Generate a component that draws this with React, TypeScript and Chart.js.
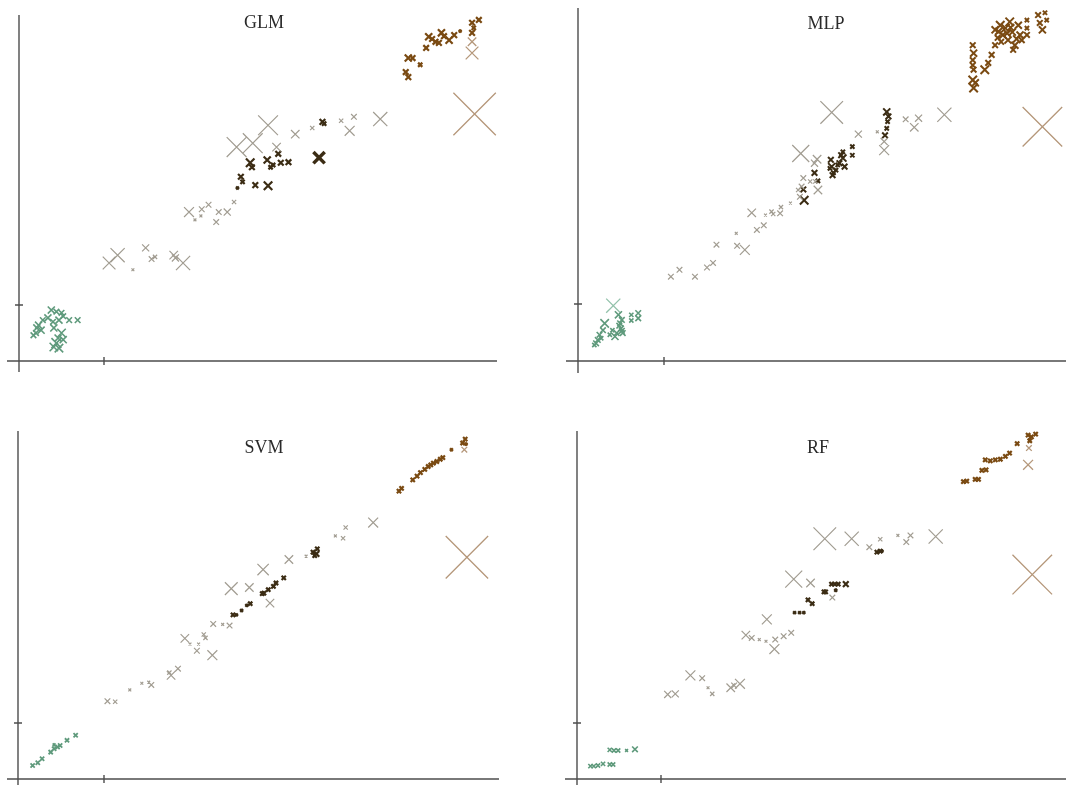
import React, { useEffect, useRef } from 'react';
import { Chart, registerables } from 'chart.js';

Chart.register(...registerables);

// [x, y, marker size]
type Pt = [number, number, number];

// ---------- GLM ----------
const glmGreen: Pt[] = [
  [0.23, 0.64, 5], [0.26, 0.55, 5], [0.17, 0.46, 4], [0.21, 0.59, 5], [0.28, 0.73, 4], [0.38, 0.91, 5],
  [0.44, 0.88, 4], [0.50, 0.86, 4], [0.47, 0.73, 5], [0.40, 0.70, 4], [0.41, 0.59, 5], [0.50, 0.50, 6],
  [0.44, 0.32, 7], [0.41, 0.25, 6], [0.46, 0.41, 5], [0.59, 0.73, 4], [0.69, 0.73, 4], [0.34, 0.77, 5],
  [0.52, 0.80, 4], [0.20, 0.50, 4], [0.47, 0.23, 6], [0.52, 0.38, 5],
];
const glmGray: Pt[] = [
  [1.06, 1.75, 9], [1.16, 1.89, 10], [1.34, 1.63, 2], [1.49, 2.02, 5], [1.56, 1.82, 4], [1.60, 1.86, 3],
  [1.82, 1.89, 6], [1.84, 1.84, 5], [1.93, 1.75, 10], [2.00, 2.66, 7], [2.07, 2.52, 2], [2.14, 2.59, 2],
  [2.15, 2.71, 4], [2.23, 2.79, 4], [2.32, 2.48, 4], [2.35, 2.66, 4], [2.45, 2.66, 5], [2.53, 2.84, 3],
  [2.56, 3.82, 14], [2.75, 3.89, 14], [2.93, 4.21, 14], [3.03, 3.82, 6], [3.25, 4.05, 6], [3.45, 4.16, 3],
  [3.79, 4.29, 3], [3.94, 4.36, 4], [3.89, 4.11, 7], [4.25, 4.32, 10],
];
const glmDark: Pt[] = [
  [2.72, 3.54, 6], [2.74, 3.46, 4], [2.61, 3.29, 4], [2.63, 3.20, 3], [2.57, 3.09, 2], [2.78, 3.14, 4],
  [2.93, 3.13, 6], [2.92, 3.59, 5], [2.99, 3.50, 3], [3.08, 3.54, 4], [3.17, 3.55, 4], [3.05, 3.70, 4],
  [3.57, 4.27, 4], [2.96, 3.46, 3], [3.59, 4.24, 3],
];
const glmBold: Pt[] = [[3.53, 3.63, 8]];
const glmBrown: Pt[] = [
  [4.58, 5.41, 5], [4.63, 5.41, 4], [4.55, 5.16, 4], [4.58, 5.07, 4], [4.72, 5.29, 3], [4.79, 5.59, 4],
  [4.82, 5.79, 5], [4.90, 5.70, 4], [4.97, 5.86, 5], [5.06, 5.73, 5], [4.94, 5.68, 4], [5.12, 5.82, 4],
  [5.19, 5.89, 2], [5.33, 6.04, 4], [5.41, 6.09, 4], [5.33, 5.86, 4], [4.86, 5.75, 4], [5.00, 5.80, 4],
  [5.35, 5.95, 3],
];
const glmTan: Pt[] = [[5.33, 5.70, 6], [5.33, 5.50, 9], [5.36, 4.41, 30]];

// ---------- MLP ----------
const mlpGreen: Pt[] = [
  [0.21, 0.31, 4], [0.23, 0.37, 4], [0.25, 0.46, 4], [0.31, 0.66, 6], [0.29, 0.54, 4], [0.43, 0.43, 5],
  [0.45, 0.49, 4], [0.47, 0.81, 5], [0.49, 0.66, 4], [0.50, 0.57, 4], [0.51, 0.72, 4], [0.52, 0.49, 4],
  [0.62, 0.81, 3], [0.62, 0.71, 3], [0.70, 0.75, 4], [0.70, 0.84, 4], [0.40, 0.54, 3], [0.37, 0.46, 3],
  [0.19, 0.28, 3], [0.27, 0.40, 3], [0.48, 0.62, 4], [0.51, 0.53, 4],
];
const mlpLightGreen: Pt[] = [[0.41, 0.97, 10]];
const mlpGray: Pt[] = [
  [1.08, 1.48, 4], [1.18, 1.60, 4], [1.36, 1.48, 4], [1.50, 1.64, 4], [1.57, 1.72, 4], [1.61, 2.04, 4],
  [1.84, 2.24, 2], [1.85, 2.02, 4], [1.94, 1.95, 7], [2.02, 2.60, 6], [2.08, 2.30, 4], [2.16, 2.38, 4],
  [2.18, 2.56, 2], [2.25, 2.62, 3], [2.27, 2.58, 3], [2.35, 2.59, 4], [2.36, 2.70, 3], [2.47, 2.77, 2],
  [2.59, 3.64, 12], [2.95, 4.36, 16], [3.26, 3.98, 5], [3.48, 4.02, 2], [3.81, 4.24, 4], [3.96, 4.26, 5],
  [3.91, 4.10, 6], [4.26, 4.32, 10], [3.56, 3.70, 7], [3.56, 3.85, 5], [2.79, 3.00, 6], [2.75, 3.47, 5],
  [2.78, 3.54, 6], [2.62, 3.21, 4], [2.60, 3.06, 4], [2.56, 3.00, 3], [2.70, 3.15, 3], [2.76, 3.15, 3],
  [2.58, 2.88, 4],
];
const mlpDark: Pt[] = [
  [2.63, 2.82, 6], [2.62, 3.01, 4], [2.75, 3.30, 4], [2.79, 3.16, 3], [2.94, 3.53, 4], [2.95, 3.41, 5],
  [2.96, 3.26, 4], [3.00, 3.35, 3], [3.04, 3.47, 4], [3.06, 3.61, 4], [3.08, 3.56, 5], [3.10, 3.41, 4],
  [3.08, 3.67, 3], [3.19, 3.76, 3], [3.19, 3.61, 3], [3.59, 4.37, 5], [3.61, 4.29, 4], [3.59, 4.08, 3],
  [3.57, 3.96, 4], [3.60, 4.20, 3], [2.97, 3.30, 3], [3.02, 3.44, 3], [2.93, 3.38, 3],
];
const mlpBrown: Pt[] = [
  [4.59, 5.54, 4], [4.60, 5.40, 5], [4.59, 5.28, 4], [4.59, 5.19, 4], [4.60, 5.11, 4], [4.59, 4.93, 6],
  [4.60, 4.79, 6], [4.62, 4.88, 5], [4.73, 5.11, 6], [4.77, 5.23, 4], [4.81, 5.37, 4], [4.85, 5.54, 4],
  [4.85, 5.81, 5], [4.91, 5.89, 6], [4.94, 5.72, 5], [4.97, 5.84, 6], [5.00, 5.63, 5], [5.02, 5.95, 6],
  [5.05, 5.77, 5], [5.08, 5.54, 5], [5.12, 5.89, 5], [5.14, 5.72, 5], [4.88, 5.67, 4], [5.06, 5.46, 4],
  [5.16, 5.63, 4], [5.22, 5.98, 3], [5.22, 5.84, 3], [5.22, 5.72, 4], [5.35, 6.07, 4], [5.37, 5.93, 4],
  [5.40, 5.81, 5], [5.43, 6.11, 3], [5.45, 5.98, 3], [4.89, 5.78, 5], [4.99, 5.75, 5], [5.10, 5.65, 5],
  [4.92, 5.60, 4], [5.03, 5.85, 5],
];
const mlpTan: Pt[] = [[5.40, 4.11, 28]];

// ---------- SVM ----------
const svmGreen: Pt[] = [
  [0.17, 0.24, 3], [0.23, 0.29, 3], [0.28, 0.36, 3], [0.38, 0.48, 3], [0.42, 0.54, 3], [0.46, 0.57, 3],
  [0.49, 0.60, 3], [0.42, 0.61, 2], [0.57, 0.69, 3], [0.67, 0.78, 3],
];
const svmGray: Pt[] = [
  [1.04, 1.39, 4], [1.13, 1.38, 3], [1.30, 1.59, 2], [1.44, 1.71, 2], [1.52, 1.73, 2], [1.55, 1.68, 4],
  [1.76, 1.90, 3], [1.78, 1.85, 6], [1.86, 1.97, 4], [1.94, 2.51, 6], [2.00, 2.41, 2], [2.10, 2.41, 2],
  [2.08, 2.29, 4], [2.16, 2.58, 3], [2.18, 2.52, 3], [2.26, 2.21, 7], [2.27, 2.77, 4], [2.38, 2.76, 2],
  [2.46, 2.74, 4], [2.48, 3.40, 9], [2.69, 3.42, 6], [2.85, 3.74, 8], [2.93, 3.14, 6], [3.15, 3.92, 6],
  [3.35, 3.98, 2], [3.69, 4.34, 2], [3.78, 4.30, 3], [3.81, 4.49, 3], [4.13, 4.58, 7],
];
const svmDark: Pt[] = [
  [2.50, 2.93, 3], [2.54, 2.93, 2], [2.60, 3.01, 2], [2.66, 3.10, 2], [2.70, 3.13, 3], [2.84, 3.31, 3],
  [2.86, 3.32, 3], [2.91, 3.38, 3], [2.97, 3.44, 3], [3.00, 3.50, 3], [3.09, 3.59, 3], [3.43, 4.05, 3],
  [3.47, 4.02, 4], [3.45, 3.99, 3], [3.48, 4.11, 3],
];
const svmBrown: Pt[] = [
  [4.43, 5.14, 3], [4.46, 5.19, 3], [4.59, 5.34, 3], [4.64, 5.41, 3], [4.68, 5.47, 3], [4.73, 5.53, 3],
  [4.77, 5.58, 3], [4.80, 5.61, 3], [4.83, 5.64, 3], [4.87, 5.67, 3], [4.91, 5.71, 3], [4.94, 5.74, 3],
  [5.04, 5.88, 2], [5.17, 6.00, 3], [5.20, 6.07, 3], [5.21, 5.98, 2],
];
const svmTan: Pt[] = [[5.19, 5.88, 4], [5.22, 3.96, 30]];

// ---------- RF ----------
const rfGreen: Pt[] = [
  [0.16, 0.23, 3], [0.20, 0.23, 3], [0.25, 0.24, 3], [0.31, 0.27, 3], [0.39, 0.26, 3], [0.43, 0.26, 3],
  [0.39, 0.52, 3], [0.44, 0.51, 3], [0.49, 0.51, 3], [0.59, 0.51, 2], [0.69, 0.53, 4],
];
const rfGray: Pt[] = [
  [1.08, 1.51, 5], [1.17, 1.52, 5], [1.35, 1.85, 7], [1.49, 1.80, 4], [1.56, 1.63, 2], [1.61, 1.52, 3],
  [1.83, 1.63, 6], [1.87, 1.67, 4], [1.94, 1.70, 7], [2.01, 2.57, 6], [2.08, 2.52, 4], [2.17, 2.49, 2],
  [2.25, 2.46, 2], [2.36, 2.49, 4], [2.35, 2.32, 7], [2.26, 2.85, 7], [2.46, 2.55, 4], [2.55, 2.61, 4],
  [2.58, 3.57, 12], [2.78, 3.50, 6], [3.04, 3.24, 4], [2.95, 4.29, 16], [3.27, 4.29, 10], [3.48, 4.14, 4],
  [3.61, 4.28, 3], [3.82, 4.35, 2], [3.92, 4.23, 4], [3.97, 4.35, 4], [4.27, 4.33, 10],
];
const rfDark: Pt[] = [
  [2.59, 2.97, 2], [2.65, 2.97, 2], [2.70, 2.97, 2], [2.75, 3.20, 3], [2.80, 3.13, 3], [2.94, 3.34, 3],
  [2.96, 3.34, 3], [3.03, 3.48, 3], [3.07, 3.48, 3], [3.11, 3.48, 3], [3.08, 3.37, 2], [3.20, 3.48, 4],
  [3.57, 4.05, 3], [3.61, 4.07, 3], [3.63, 4.07, 2],
];
const rfBrown: Pt[] = [
  [4.60, 5.31, 3], [4.64, 5.32, 3], [4.74, 5.35, 3], [4.78, 5.35, 3], [4.82, 5.51, 3], [4.87, 5.52, 3],
  [4.86, 5.70, 3], [4.92, 5.68, 3], [4.98, 5.70, 3], [5.04, 5.71, 3], [5.10, 5.76, 3], [5.15, 5.82, 3],
  [5.24, 5.99, 3], [5.37, 6.14, 3], [5.39, 6.04, 3], [5.46, 6.16, 3], [5.41, 6.11, 3],
];
const rfTan: Pt[] = [[5.38, 5.91, 4], [5.37, 5.61, 7], [5.42, 3.65, 28]];

// ---------- styling ----------
const GREEN = '#5f9a7c';
const LIGHT_GREEN = '#93c2ab';
const GRAY = '#a19c91';
const DARK = '#3b2c14';
const BROWN = '#7a4a12';
const TAN = '#b5977a';

interface Group { pts: Pt[]; color: string; width: number; }
interface Panel {
  name: string; left: number; top: number; w: number; h: number;
  ox: number; oy: number; ux: number; uy: number;
  yTop: number; yBottom: number; xLeft: number; xRight: number;
  titleX: number; titleY: number; groups: Group[];
}

const panels: Panel[] = [
  {
    name: 'GLM', left: 0, top: 0, w: 533, h: 392, ox: 19, oy: 361, ux: 85, uy: 56,
    yTop: 15, yBottom: 372, xLeft: 7, xRight: 497, titleX: 264, titleY: 22,
    groups: [
      { pts: glmGray, color: GRAY, width: 1.2 },
      { pts: glmGreen, color: GREEN, width: 1.6 },
      { pts: glmDark, color: DARK, width: 2.2 },
      { pts: glmBold, color: DARK, width: 3.5 },
      { pts: glmBrown, color: BROWN, width: 2.2 },
      { pts: glmTan, color: TAN, width: 1.3 },
    ],
  },
  {
    name: 'MLP', left: 533, top: 0, w: 533, h: 392, ox: 45, oy: 361, ux: 86, uy: 57,
    yTop: 8, yBottom: 373, xLeft: 33, xRight: 533, titleX: 826, titleY: 23,
    groups: [
      { pts: mlpGray, color: GRAY, width: 1.2 },
      { pts: mlpGreen, color: GREEN, width: 1.6 },
      { pts: mlpLightGreen, color: LIGHT_GREEN, width: 1.3 },
      { pts: mlpDark, color: DARK, width: 2.0 },
      { pts: mlpBrown, color: BROWN, width: 2.0 },
      { pts: mlpTan, color: TAN, width: 1.3 },
    ],
  },
  {
    name: 'SVM', left: 0, top: 392, w: 533, h: 393, ox: 18, oy: 387, ux: 86, uy: 56,
    yTop: 39, yBottom: 393, xLeft: 7, xRight: 499, titleX: 264, titleY: 447,
    groups: [
      { pts: svmGray, color: GRAY, width: 1.2 },
      { pts: svmGreen, color: GREEN, width: 1.8 },
      { pts: svmDark, color: DARK, width: 2.2 },
      { pts: svmBrown, color: BROWN, width: 2.2 },
      { pts: svmTan, color: TAN, width: 1.3 },
    ],
  },
  {
    name: 'RF', left: 533, top: 392, w: 533, h: 393, ox: 44, oy: 387, ux: 84, uy: 56,
    yTop: 39, yBottom: 393, xLeft: 32, xRight: 533, titleX: 818, titleY: 447,
    groups: [
      { pts: rfGray, color: GRAY, width: 1.2 },
      { pts: rfGreen, color: GREEN, width: 1.6 },
      { pts: rfDark, color: DARK, width: 2.2 },
      { pts: rfBrown, color: BROWN, width: 2.2 },
      { pts: rfTan, color: TAN, width: 1.3 },
    ],
  },
];

const crossAxes = {
  id: 'crossAxes',
  beforeDatasetsDraw(chart: any, _args: any, opts: any) {
    const { ctx } = chart;
    const xs = chart.scales.x;
    const ys = chart.scales.y;
    const x0 = xs.getPixelForValue(0);
    const y0 = ys.getPixelForValue(0);
    const x1 = xs.getPixelForValue(1);
    const y1 = ys.getPixelForValue(1);
    ctx.save();
    ctx.strokeStyle = '#4d4d4d';
    ctx.lineWidth = 1.4;
    ctx.beginPath();
    ctx.moveTo(x0, opts.yTop); ctx.lineTo(x0, opts.yBottom);
    ctx.moveTo(opts.xLeft, y0); ctx.lineTo(opts.xRight, y0);
    ctx.moveTo(x1, y0 - 4); ctx.lineTo(x1, y0 + 4);
    ctx.moveTo(x0 - 4, y1); ctx.lineTo(x0 + 4, y1);
    ctx.stroke();
    ctx.restore();
  },
};

function PanelChart({ p }: { p: Panel }) {
  const ref = useRef<HTMLCanvasElement | null>(null);
  useEffect(() => {
    if (!ref.current) return;
    const datasets = p.groups.map((g) => ({
      data: g.pts.map(([x, y]) => ({ x, y })),
      pointStyle: 'crossRot' as const,
      pointRadius: g.pts.map((q) => q[2]),
      pointBorderColor: g.color,
      pointBackgroundColor: g.color,
      pointBorderWidth: g.width,
      showLine: false,
      clip: false as any,
    }));
    const chart = new Chart(ref.current, {
      type: 'scatter',
      data: { datasets },
      options: {
        animation: false,
        responsive: false,
        maintainAspectRatio: false,
        devicePixelRatio: 1,
        layout: { padding: 0, autoPadding: false },
        events: [],
        scales: {
          x: { type: 'linear', display: false, min: -p.ox / p.ux, max: (p.w - p.ox) / p.ux },
          y: { type: 'linear', display: false, min: -(p.h - p.oy) / p.uy, max: p.oy / p.uy },
        },
        plugins: {
          legend: { display: false },
          tooltip: { enabled: false },
          crossAxes: { yTop: p.yTop, yBottom: p.yBottom, xLeft: p.xLeft, xRight: p.xRight },
        } as any,
      },
      plugins: [crossAxes],
    });
    return () => chart.destroy();
  }, [p]);
  return (
    <canvas
      ref={ref}
      width={p.w}
      height={p.h}
      style={{ position: 'absolute', left: p.left, top: p.top, width: p.w, height: p.h }}
    />
  );
}

export default function App() {
  return (
    <div style={{ position: 'absolute', left: 0, top: 0, width: 1066, height: 785, background: '#fff', overflow: 'hidden' }}>
      {panels.map((p) => (
        <PanelChart key={p.name} p={p} />
      ))}
      {panels.map((p) => (
        <div
          key={p.name + '-t'}
          style={{
            position: 'absolute', left: p.titleX, top: p.titleY, transform: 'translate(-50%, -50%)',
            fontFamily: '"Liberation Serif", "DejaVu Serif", serif', fontSize: 18, color: '#2a2a2a',
            whiteSpace: 'nowrap', pointerEvents: 'none',
          }}
        >
          {p.name}
        </div>
      ))}
    </div>
  );
}
